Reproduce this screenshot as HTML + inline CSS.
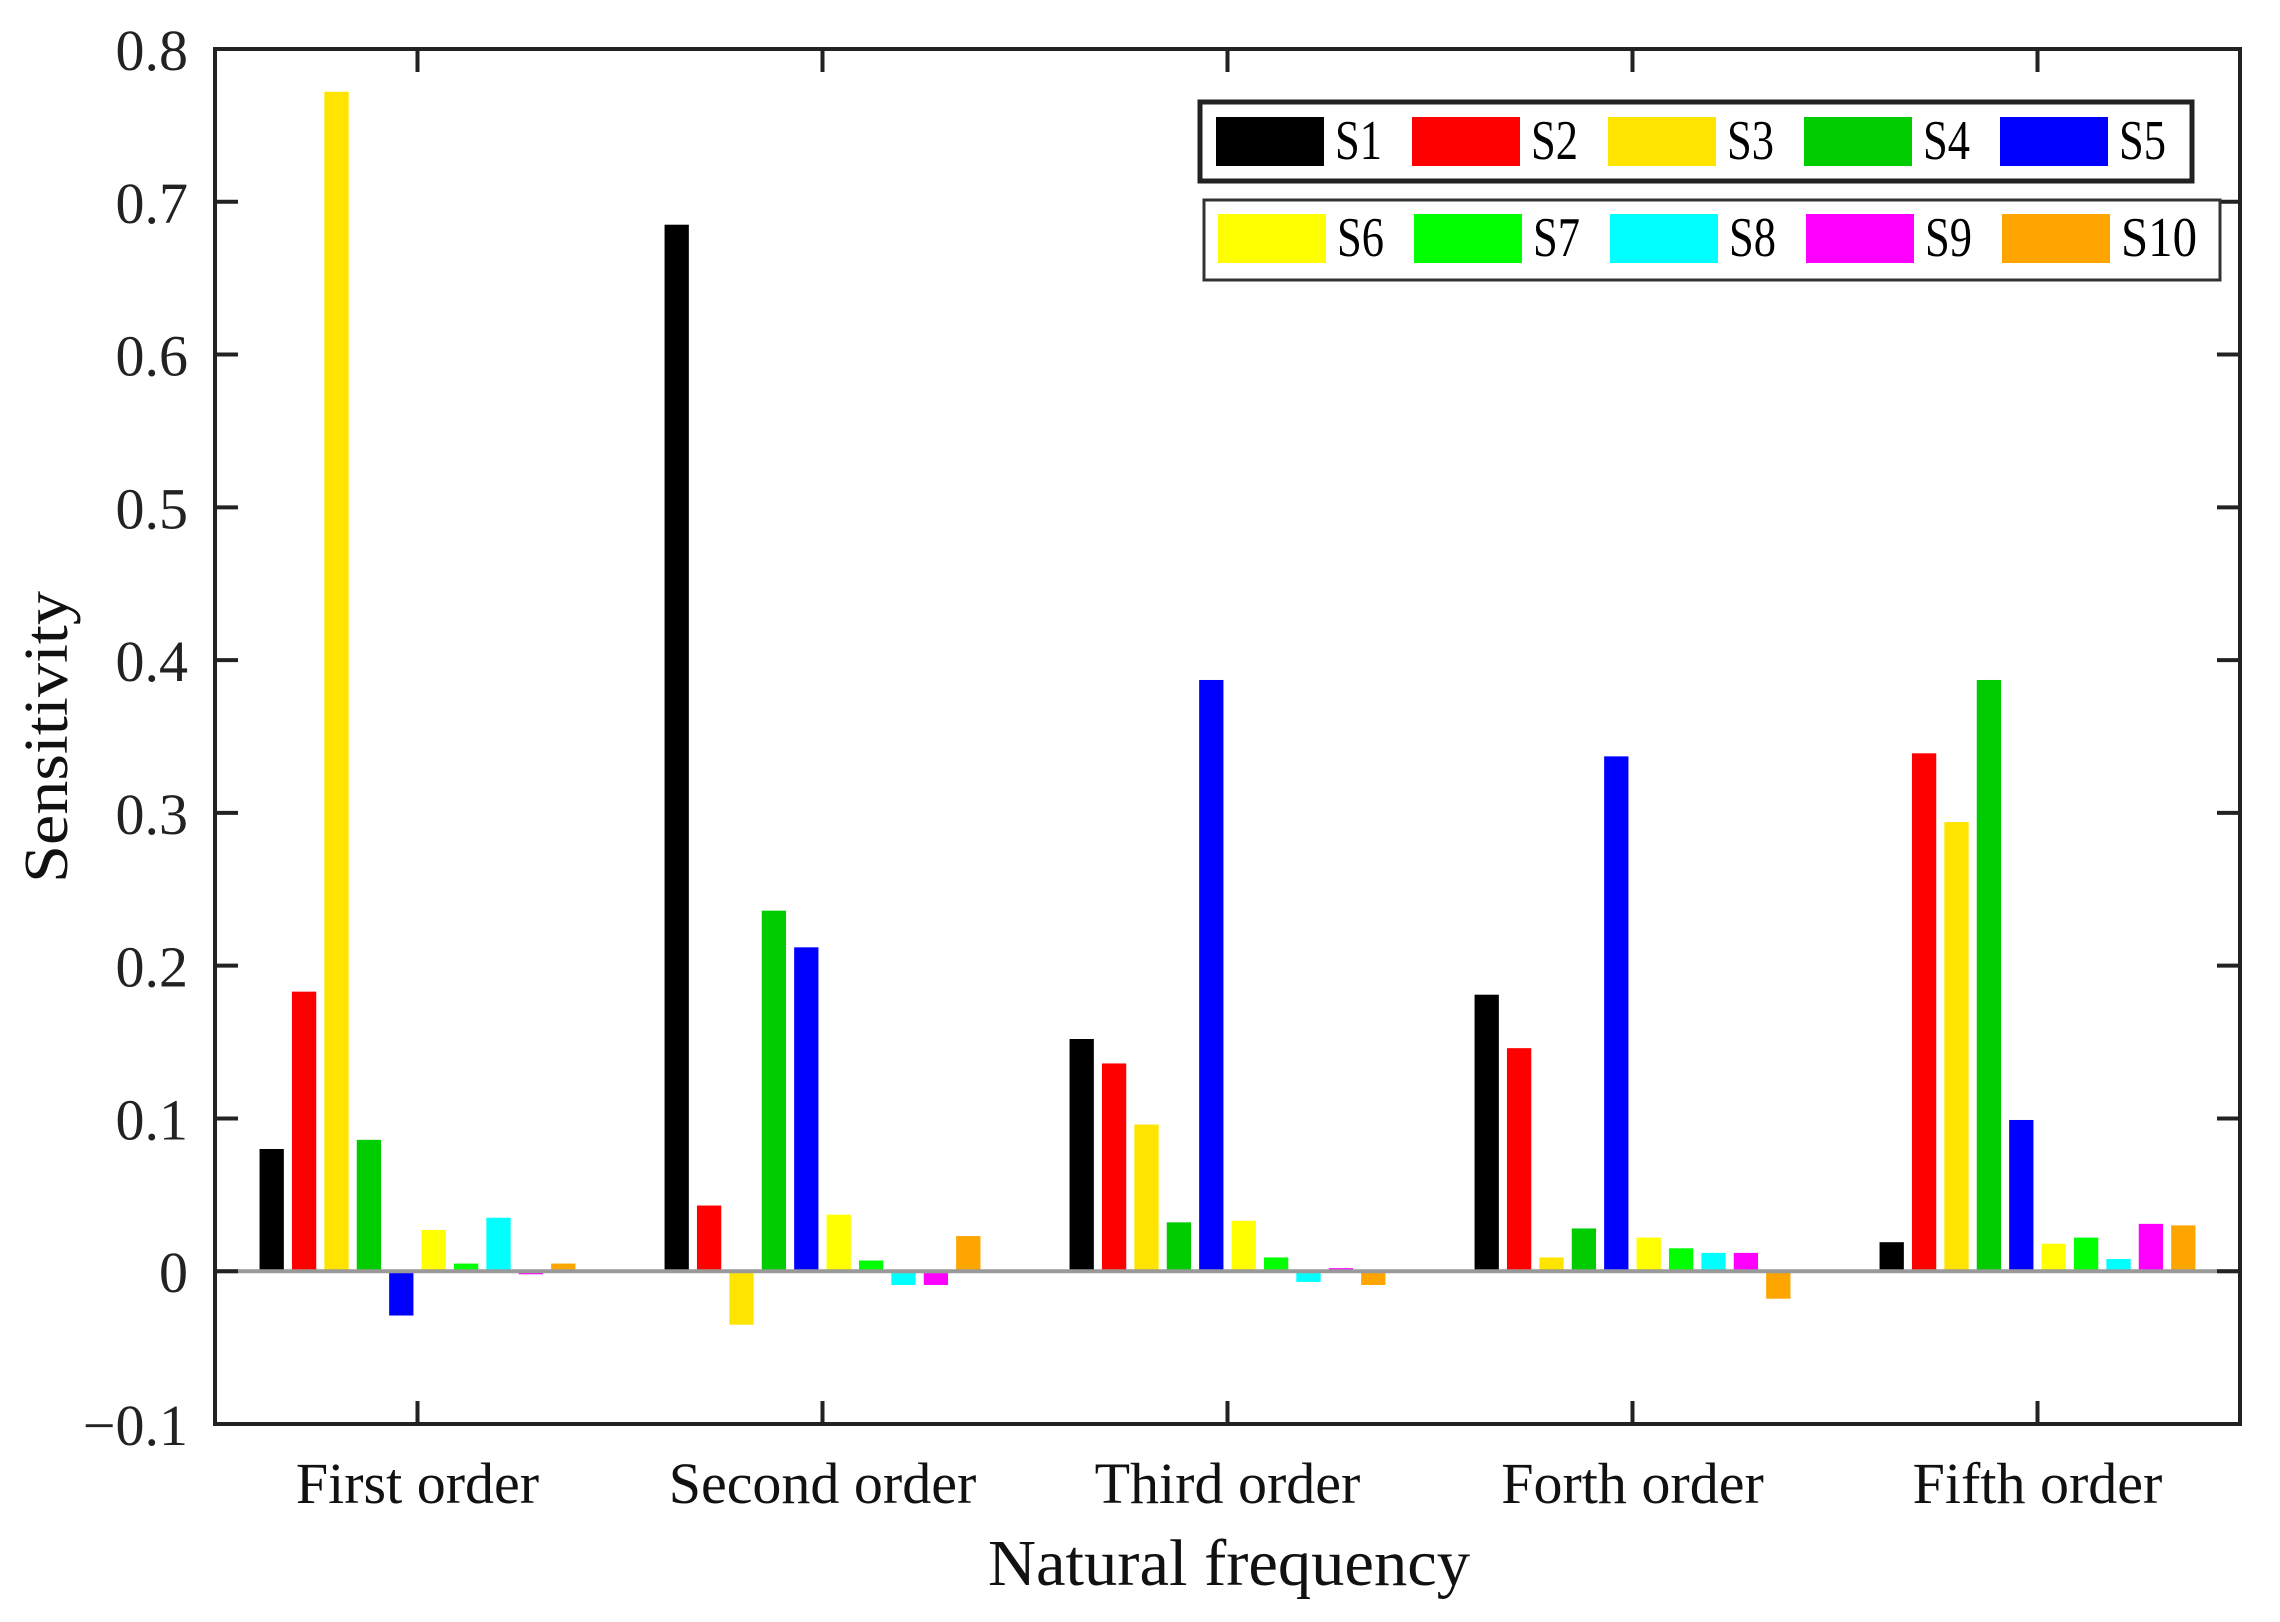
<!DOCTYPE html>
<html><head><meta charset="utf-8"><style>
html,body{margin:0;padding:0;background:#fff;}
svg{display:block;font-family:"Liberation Serif",serif;}
</style></head><body>
<svg id="chart" width="2280" height="1622" viewBox="0 0 2280 1622" xmlns="http://www.w3.org/2000/svg"></svg>
<script>
const categories = ["First order","Second order","Third order","Forth order","Fifth order"];
const seriesNames = ["S1","S2","S3","S4","S5","S6","S7","S8","S9","S10"];
const seriesColors = ["#000000","#ff0000","#ffe400","#00cc00","#0000ff","#ffff00","#00ff00","#00ffff","#ff00ff","#ffa500"];
const s1 = [0.080,0.685,0.152,0.181,0.019];
const s2 = [0.183,0.043,0.136,0.146,0.339];
const s3 = [0.772,-0.035,0.096,0.009,0.294];
const s4 = [0.086,0.236,0.032,0.028,0.387];
const s5 = [-0.029,0.212,0.387,0.337,0.099];
const s6 = [0.027,0.037,0.033,0.022,0.018];
const s7 = [0.005,0.007,0.009,0.015,0.022];
const s8 = [0.035,-0.009,-0.007,0.012,0.008];
const s9 = [-0.002,-0.009,0.002,0.012,0.031];
const s10 = [0.005,0.023,-0.009,-0.018,0.030];
const yTicks = [-0.1,0,0.1,0.2,0.3,0.4,0.5,0.6,0.7,0.8];
const yTickLabels = ["\u22120.1","0","0.1","0.2","0.3","0.4","0.5","0.6","0.7","0.8"];

const series = [s1,s2,s3,s4,s5,s6,s7,s8,s9,s10];
const NS = "http://www.w3.org/2000/svg";
const svg = document.getElementById('chart');
const L=215, R=2240, T=49, B=1424, yMin=-0.1, yMax=0.8;
function y(v){return B-(v-yMin)/(yMax-yMin)*(B-T);}
const gw=(R-L)/categories.length;
function xc(i){return L+gw*(i+0.5);}
function mk(tag,attrs,parent){const e=document.createElementNS(NS,tag);for(const k in attrs)e.setAttribute(k,attrs[k]);(parent||svg).appendChild(e);return e;}

const pitch=gw*0.8/seriesNames.length, bw=pitch*0.75;
const barsG=mk('g',{});


series.forEach((arr,s)=>{
  arr.forEach((v,i)=>{
    const x=xc(i)-gw*0.4+s*pitch+(pitch-bw)/2;
    const y0=y(0), yv=y(v);
    const r=mk('rect',{x:x,y:Math.min(y0,yv),width:bw,height:Math.max(Math.abs(yv-y0),2),fill:seriesColors[s]},barsG);
    
    
  });
});
const zl=mk('line',{x1:L,x2:R,y1:y(0),y2:y(0),stroke:'#999',"stroke-width":4});



const ax=mk('rect',{x:L,y:T,width:R-L,height:B-T,fill:'none',stroke:'#222',"stroke-width":4});



yTicks.forEach((v,k)=>{
  const yy=y(v);
  mk('line',{x1:L,x2:L+23,y1:yy,y2:yy,stroke:'#222',"stroke-width":4});
  mk('line',{x1:R-23,x2:R,y1:yy,y2:yy,stroke:'#222',"stroke-width":4});
  const t=mk('text',{x:188,y:yy+21,"text-anchor":"end","font-size":58,fill:'#222'});
  t.textContent=yTickLabels[k];
  
  
});
categories.forEach((c,i)=>{
  const xx=xc(i);
  mk('line',{x1:xx,x2:xx,y1:B,y2:B-23,stroke:'#222',"stroke-width":4});
  mk('line',{x1:xx,x2:xx,y1:T,y2:T+23,stroke:'#222',"stroke-width":4});
  const t=mk('text',{x:xx,y:1503,"text-anchor":"middle","font-size":58,fill:'#111'});
  t.textContent=c;
  
  
});
const xt=mk('text',{x:1229,y:1585,"text-anchor":"middle","font-size":66,fill:'#111',textLength:482,lengthAdjust:'spacingAndGlyphs'});
xt.textContent='Natural frequency';


const yt=mk('text',{x:0,y:0,"text-anchor":"middle","font-size":62,fill:'#111',transform:'translate(67,737) rotate(-90)',textLength:292,lengthAdjust:'spacingAndGlyphs'});
yt.textContent='Sensitivity';



const lg1=mk('g',{});


mk('rect',{x:1200,y:102,width:992,height:79,fill:'#fff',stroke:'#222',"stroke-width":5},lg1);
const lg2=mk('g',{});


mk('rect',{x:1204,y:200,width:1016,height:80,fill:'#fff',stroke:'#333',"stroke-width":3},lg2);
seriesNames.forEach((n,s)=>{
  const row=s<5?0:1, col=s%5;
  const g=row?lg2:lg1;
  const sx=(row?1218:1216)+col*196, sy=row?214:117;
  const e=mk('g',{},g);
  
  
  mk('rect',{x:sx,y:sy,width:108,height:49,fill:seriesColors[s]},e);
  const t=mk('text',{x:sx+119,y:sy+42,"font-size":56,fill:'#000',textLength:n.length>2?76:47,lengthAdjust:'spacingAndGlyphs'},e);
  t.textContent=n;
});
</script>
</body></html>
